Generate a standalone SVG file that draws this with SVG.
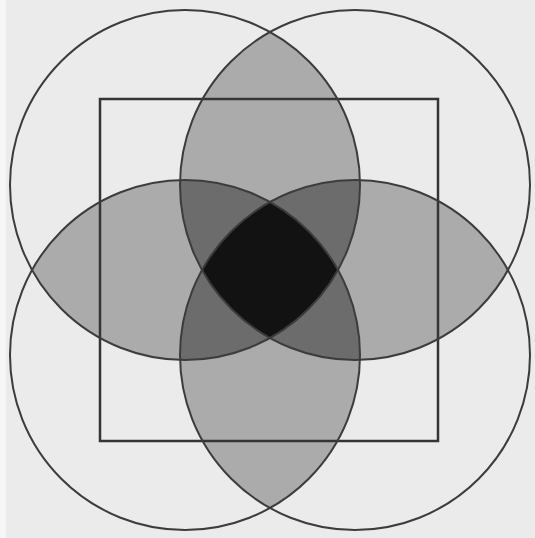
<svg xmlns="http://www.w3.org/2000/svg" width="535" height="538" viewBox="0 0 535 538">
  <style>
    .outline { fill: none; stroke: #3c3c3c; stroke-width: 2; }
    .box { fill: none; stroke: #353535; stroke-width: 2.5; }
    .two { fill: #ababab; }
    .three { fill: #6c6c6c; }
    .four { fill: #121212; }
  </style>
  <defs>
    <clipPath id="cTL"><circle cx="185" cy="185" r="175"/></clipPath>
    <clipPath id="cTR"><circle cx="355" cy="185" r="175"/></clipPath>
    <clipPath id="cBL"><circle cx="185" cy="355" r="175"/></clipPath>
    <clipPath id="cBR"><circle cx="355" cy="355" r="175"/></clipPath>
  </defs>
  <rect width="535" height="538" fill="#ebebeb"/>
  <rect width="6" height="538" fill="#f6f6f6"/>

  <g id="shading">
    <!-- two-circle overlaps -->
    <g clip-path="url(#cTL)"><circle class="two" cx="355" cy="185" r="175"/></g>
    <g clip-path="url(#cTL)"><circle class="two" cx="185" cy="355" r="175"/></g>
    <g clip-path="url(#cBR)"><circle class="two" cx="355" cy="185" r="175"/></g>
    <g clip-path="url(#cBR)"><circle class="two" cx="185" cy="355" r="175"/></g>
    <!-- three-circle overlaps -->
    <g clip-path="url(#cTL)"><g clip-path="url(#cTR)"><circle class="three" cx="185" cy="355" r="175"/></g></g>
    <g clip-path="url(#cTL)"><g clip-path="url(#cTR)"><circle class="three" cx="355" cy="355" r="175"/></g></g>
    <g clip-path="url(#cBL)"><g clip-path="url(#cBR)"><circle class="three" cx="185" cy="185" r="175"/></g></g>
    <g clip-path="url(#cBL)"><g clip-path="url(#cBR)"><circle class="three" cx="355" cy="185" r="175"/></g></g>
    <!-- four-circle overlap -->
    <g clip-path="url(#cTL)"><g clip-path="url(#cTR)"><g clip-path="url(#cBL)"><circle class="four" cx="355" cy="355" r="175"/></g></g></g>
  </g>

  <g id="square"><rect class="box" x="100" y="99" width="338" height="342"/></g>
  <g id="circle-top-left"><circle class="outline" cx="185" cy="185" r="175"/></g>
  <g id="circle-top-right"><circle class="outline" cx="355" cy="185" r="175"/></g>
  <g id="circle-bottom-left"><circle class="outline" cx="185" cy="355" r="175"/></g>
  <g id="circle-bottom-right"><circle class="outline" cx="355" cy="355" r="175"/></g>
</svg>
